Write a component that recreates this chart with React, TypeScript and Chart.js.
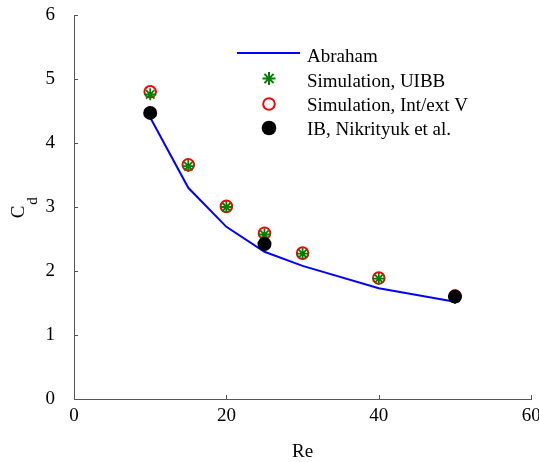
import React, { useEffect, useRef } from 'react';
import { Chart, registerables } from 'chart.js';

Chart.register(...registerables);

const reAbraham = [10, 15, 20, 25, 30, 40, 50];
const cdAbraham = [4.4, 3.3, 2.69, 2.3, 2.08, 1.73, 1.52];
const reUIBB = [10, 15, 20, 25, 30, 40, 50];
const cdUIBB = [4.76, 3.64, 3.0, 2.57, 2.27, 1.88, 1.58];
const reIntExt = [10, 15, 20, 25, 30, 40, 50];
const cdIntExt = [4.8, 3.66, 3.01, 2.59, 2.28, 1.89, 1.61];
const reIB = [10, 25, 50];
const cdIB = [4.47, 2.42, 1.6];
const xTickValues = [0, 20, 40, 60];
const yTickValues = [0, 1, 2, 3, 4, 5, 6];
const legendLabels = ['Abraham', 'Simulation, UIBB', 'Simulation, Int/ext V', 'IB, Nikrityuk et al.'];
const xTitle = 'Re';
const yTitleMain = 'C';
const yTitleSub = 'd';

const FONT = "'Liberation Serif', 'Times New Roman', serif";
const AXIS_COLOR = '#555555';

const pts = (xs: number[], ys: number[]) => ys.map((y, i) => ({ x: xs[i], y }));

const decorPlugin = {
  id: 'decor',
  afterDraw(chart: any) {
    const ctx = chart.ctx as CanvasRenderingContext2D;
    const xs = chart.scales.x;
    const ys = chart.scales.y;
    const area = chart.chartArea;
    ctx.save();
    // inward ticks
    ctx.strokeStyle = AXIS_COLOR;
    ctx.lineWidth = 1;
    ctx.beginPath();
    xTickValues.forEach((v) => {
      const px = Math.round(xs.getPixelForValue(v)) + 0.5;
      ctx.moveTo(px, area.bottom);
      ctx.lineTo(px, area.bottom - 4);
    });
    yTickValues.forEach((v) => {
      const py = Math.round(ys.getPixelForValue(v)) + 0.5;
      ctx.moveTo(area.left, py);
      ctx.lineTo(area.left + 4, py);
    });
    ctx.stroke();

    // axis titles
    ctx.fillStyle = '#000';
    ctx.font = `19px ${FONT}`;
    ctx.textAlign = 'center';
    ctx.textBaseline = 'middle';
    ctx.fillText(xTitle, (area.left + area.right) / 2, 452);

    const cy = (area.top + area.bottom) / 2;
    ctx.save();
    ctx.translate(19, cy + 5);
    ctx.rotate(-Math.PI / 2);
    ctx.font = `19px ${FONT}`;
    ctx.fillText(yTitleMain, 0, 0);
    ctx.font = `15px ${FONT}`;
    ctx.fillText(yTitleSub, 11, 14);
    ctx.restore();

    // legend
    const mx = 269;
    const rowsY = [53, 78.5, 104, 128];
    const textY = [62, 86.5, 110.8, 135];
    ctx.strokeStyle = '#0000ff';
    ctx.lineWidth = 2;
    ctx.beginPath();
    ctx.moveTo(237, rowsY[0]);
    ctx.lineTo(300, rowsY[0]);
    ctx.stroke();

    // star
    ctx.strokeStyle = '#008000';
    ctx.lineWidth = 2;
    ctx.beginPath();
    const r = 6.5;
    for (let k = 0; k < 4; k++) {
      const a = (k * Math.PI) / 4;
      ctx.moveTo(mx - r * Math.cos(a), rowsY[1] - r * Math.sin(a));
      ctx.lineTo(mx + r * Math.cos(a), rowsY[1] + r * Math.sin(a));
    }
    ctx.stroke();

    // red circle
    ctx.strokeStyle = '#ff0000';
    ctx.lineWidth = 2;
    ctx.beginPath();
    ctx.arc(mx, rowsY[2], 5.8, 0, Math.PI * 2);
    ctx.stroke();

    // black dot
    ctx.fillStyle = '#000';
    ctx.beginPath();
    ctx.arc(mx, rowsY[3], 7.3, 0, Math.PI * 2);
    ctx.fill();

    ctx.font = `19px ${FONT}`;
    ctx.textAlign = 'left';
    ctx.textBaseline = 'alphabetic';
    legendLabels.forEach((t, i) => ctx.fillText(t, 307, textY[i]));
    ctx.restore();
  },
};

export default function App() {
  const ref = useRef<HTMLCanvasElement>(null);
  useEffect(() => {
    if (!ref.current) return;
    const chart = new Chart(ref.current, {
      type: 'scatter',
      data: {
        datasets: [
          {
            label: legendLabels[0],
            data: pts(reAbraham, cdAbraham),
            showLine: true,
            borderColor: '#0000ff',
            borderWidth: 2,
            pointRadius: 0,
            fill: false,
            tension: 0,
            order: 3,
          },
          {
            label: legendLabels[2],
            data: pts(reIntExt, cdIntExt),
            pointStyle: 'circle',
            pointRadius: 5.8,
            borderWidth: 2,
            borderColor: '#ff0000',
            backgroundColor: 'rgba(0,0,0,0)',
            order: 2,
          },
          {
            label: legendLabels[1],
            data: pts(reUIBB, cdUIBB),
            pointStyle: 'star',
            pointRadius: 6,
            borderWidth: 1.8,
            borderColor: '#008000',
            backgroundColor: '#008000',
            order: 1,
          },
          {
            label: legendLabels[3],
            data: pts(reIB, cdIB),
            pointStyle: 'circle',
            pointRadius: 7,
            borderWidth: 0,
            backgroundColor: '#000000',
            borderColor: '#000000',
            order: 0,
          },
        ],
      },
      options: {
        animation: false,
        responsive: false,
        devicePixelRatio: 1,
        layout: { padding: { left: 0, right: 7, top: 15, bottom: 0 } },
        plugins: { legend: { display: false }, tooltip: { enabled: false } },
        scales: {
          x: {
            type: 'linear',
            min: 0,
            max: 60,
            afterBuildTicks: (s: any) => {
              s.ticks = xTickValues.map((v) => ({ value: v }));
            },
            ticks: { font: { family: FONT, size: 19 }, color: '#000', padding: -2, maxRotation: 0 },
            grid: { display: false },
            border: { display: true, color: AXIS_COLOR, width: 1 },
            afterFit: (s: any) => {
              s.height = 63;
              s.paddingLeft = 0;
              s.paddingRight = 0;
            },
          },
          y: {
            type: 'linear',
            min: 0,
            max: 6,
            afterBuildTicks: (s: any) => {
              s.ticks = yTickValues.map((v) => ({ value: v }));
            },
            ticks: { font: { family: FONT, size: 19 }, color: '#000', padding: 11 },
            grid: { display: false },
            border: { display: true, color: AXIS_COLOR, width: 1 },
            afterFit: (s: any) => {
              s.width = 74;
              s.paddingTop = 0;
              s.paddingBottom = 0;
            },
          },
        },
      },
      plugins: [decorPlugin],
    });
    return () => chart.destroy();
  }, []);
  return (
    <div style={{ position: 'fixed', left: 0, top: 0, width: 539, height: 462, background: '#fff' }}>
      <canvas ref={ref} width={539} height={462} style={{ width: 539, height: 462 }} />
    </div>
  );
}
